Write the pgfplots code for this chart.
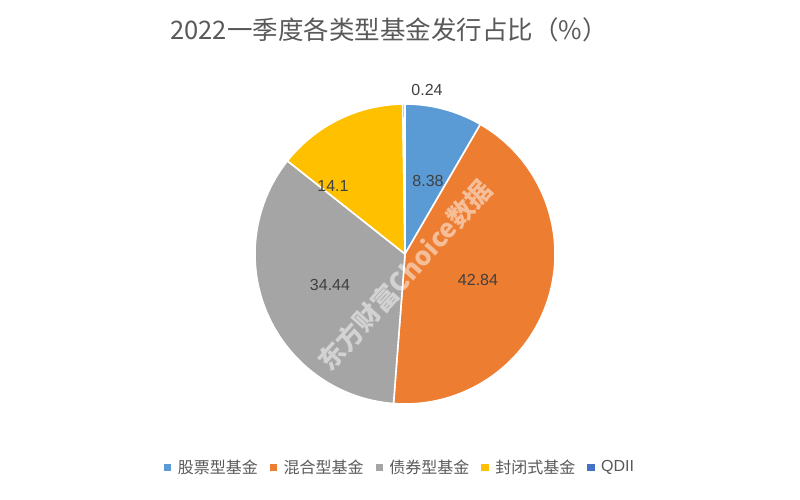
\documentclass[border=0pt]{standalone}
\usepackage{pgfplots}
\pgfplotsset{compat=1.18}
\usepackage{pgfplotstable}
\usepackage{fontspec}
\setmainfont{Liberation Sans}
\newfontfamily\cjk{Noto Sans CJK SC}

\definecolor{cBlue}{HTML}{5B9BD5}
\definecolor{cOrange}{HTML}{ED7D31}
\definecolor{cGray}{HTML}{A5A5A5}
\definecolor{cYellow}{HTML}{FFC000}
\definecolor{cDark}{HTML}{4472C4}
\definecolor{cTitle}{HTML}{595959}
\definecolor{cLabel}{HTML}{404040}
\tikzset{pieedge/.style={draw=white, line width=1.6pt, line join=round}}

% share of each fund type, clockwise from 12 o'clock
\pgfplotstableread{
value
8.38
42.84
34.44
14.1
0.24
}\piedata

\begin{document}
\begin{tikzpicture}
\pgfplotstablegetelem{0}{value}\of\piedata \pgfmathsetmacro\va{\pgfplotsretval}
\pgfplotstablegetelem{1}{value}\of\piedata \pgfmathsetmacro\vb{\pgfplotsretval}
\pgfplotstablegetelem{2}{value}\of\piedata \pgfmathsetmacro\vc{\pgfplotsretval}
\pgfplotstablegetelem{3}{value}\of\piedata \pgfmathsetmacro\vd{\pgfplotsretval}
\pgfplotstablegetelem{4}{value}\of\piedata \pgfmathsetmacro\ve{\pgfplotsretval}
\pgfmathsetmacro\aA{90}
\pgfmathsetmacro\aB{\aA-3.6*\va}
\pgfmathsetmacro\aC{\aB-3.6*\vb}
\pgfmathsetmacro\aD{\aC-3.6*\vc}
\pgfmathsetmacro\aE{\aD-3.6*\vd}
\pgfmathsetmacro\aF{\aE-3.6*\ve}
\begin{axis}[
    scale only axis,
    width=800pt, height=500pt,
    xmin=0, xmax=800, ymin=0, ymax=500,
    hide axis, clip=false,
    legend image code/.code={\fill[#1] (0pt,-3.2pt) rectangle (6.4pt,3.2pt);},
    legend columns=5,
    legend style={at={(axis cs:400,33)}, anchor=center, draw=none, fill=none,
        font=\fontsize{16}{19}\selectfont, text=cTitle,
        nodes={inner sep=2pt},
        /tikz/every odd column/.append style={column sep=5pt},
        /tikz/every even column/.append style={column sep=10pt}},
]
\coordinate (bl) at (axis cs:0,0);
\coordinate (tr) at (axis cs:800,500);

\filldraw[fill=cBlue, pieedge] (axis cs:405,246) -- ++(\aA:150pt) arc[start angle=\aA, end angle=\aB, radius=150pt] -- cycle;
\filldraw[fill=cOrange, pieedge] (axis cs:405,246) -- ++(\aB:150pt) arc[start angle=\aB, end angle=\aC, radius=150pt] -- cycle;
\filldraw[fill=cGray, pieedge] (axis cs:405,246) -- ++(\aC:150pt) arc[start angle=\aC, end angle=\aD, radius=150pt] -- cycle;
\filldraw[fill=cYellow, pieedge] (axis cs:405,246) -- ++(\aD:150pt) arc[start angle=\aD, end angle=\aE, radius=150pt] -- cycle;
\filldraw[fill=cDark, pieedge] (axis cs:405,246) -- ++(\aE:150pt) arc[start angle=\aE, end angle=\aF, radius=150pt] -- cycle;

\node[rotate=48, text=white, opacity=0.5, font=\cjk\bfseries\fontsize{26}{30}\selectfont] at (axis cs:405,225) {东方财富Choice数据};

\begin{scope}[every node/.style={font=\fontsize{16}{19}\selectfont, text=cLabel}]
\node at (axis cs:427,410) {0.24};
\node at (axis cs:428,319) {8.38};
\node at (axis cs:333,314) {14.1};
\node at (axis cs:478,220) {42.84};
\node at (axis cs:330,215) {34.44};
\end{scope}

\node[font=\cjk\fontsize{25.5}{30}\selectfont, text=cTitle] at (axis cs:389,470) {2022一季度各类型基金发行占比（\%）};

\addlegendimage{cBlue}\addlegendentry{\cjk 股票型基金}
\addlegendimage{cOrange}\addlegendentry{\cjk 混合型基金}
\addlegendimage{cGray}\addlegendentry{\cjk 债券型基金}
\addlegendimage{cYellow}\addlegendentry{\cjk 封闭式基金}
\addlegendimage{cDark}\addlegendentry{QDII}
\end{axis}
\pgfresetboundingbox
\path[use as bounding box] (bl) rectangle (tr);
\end{tikzpicture}
\end{document}
